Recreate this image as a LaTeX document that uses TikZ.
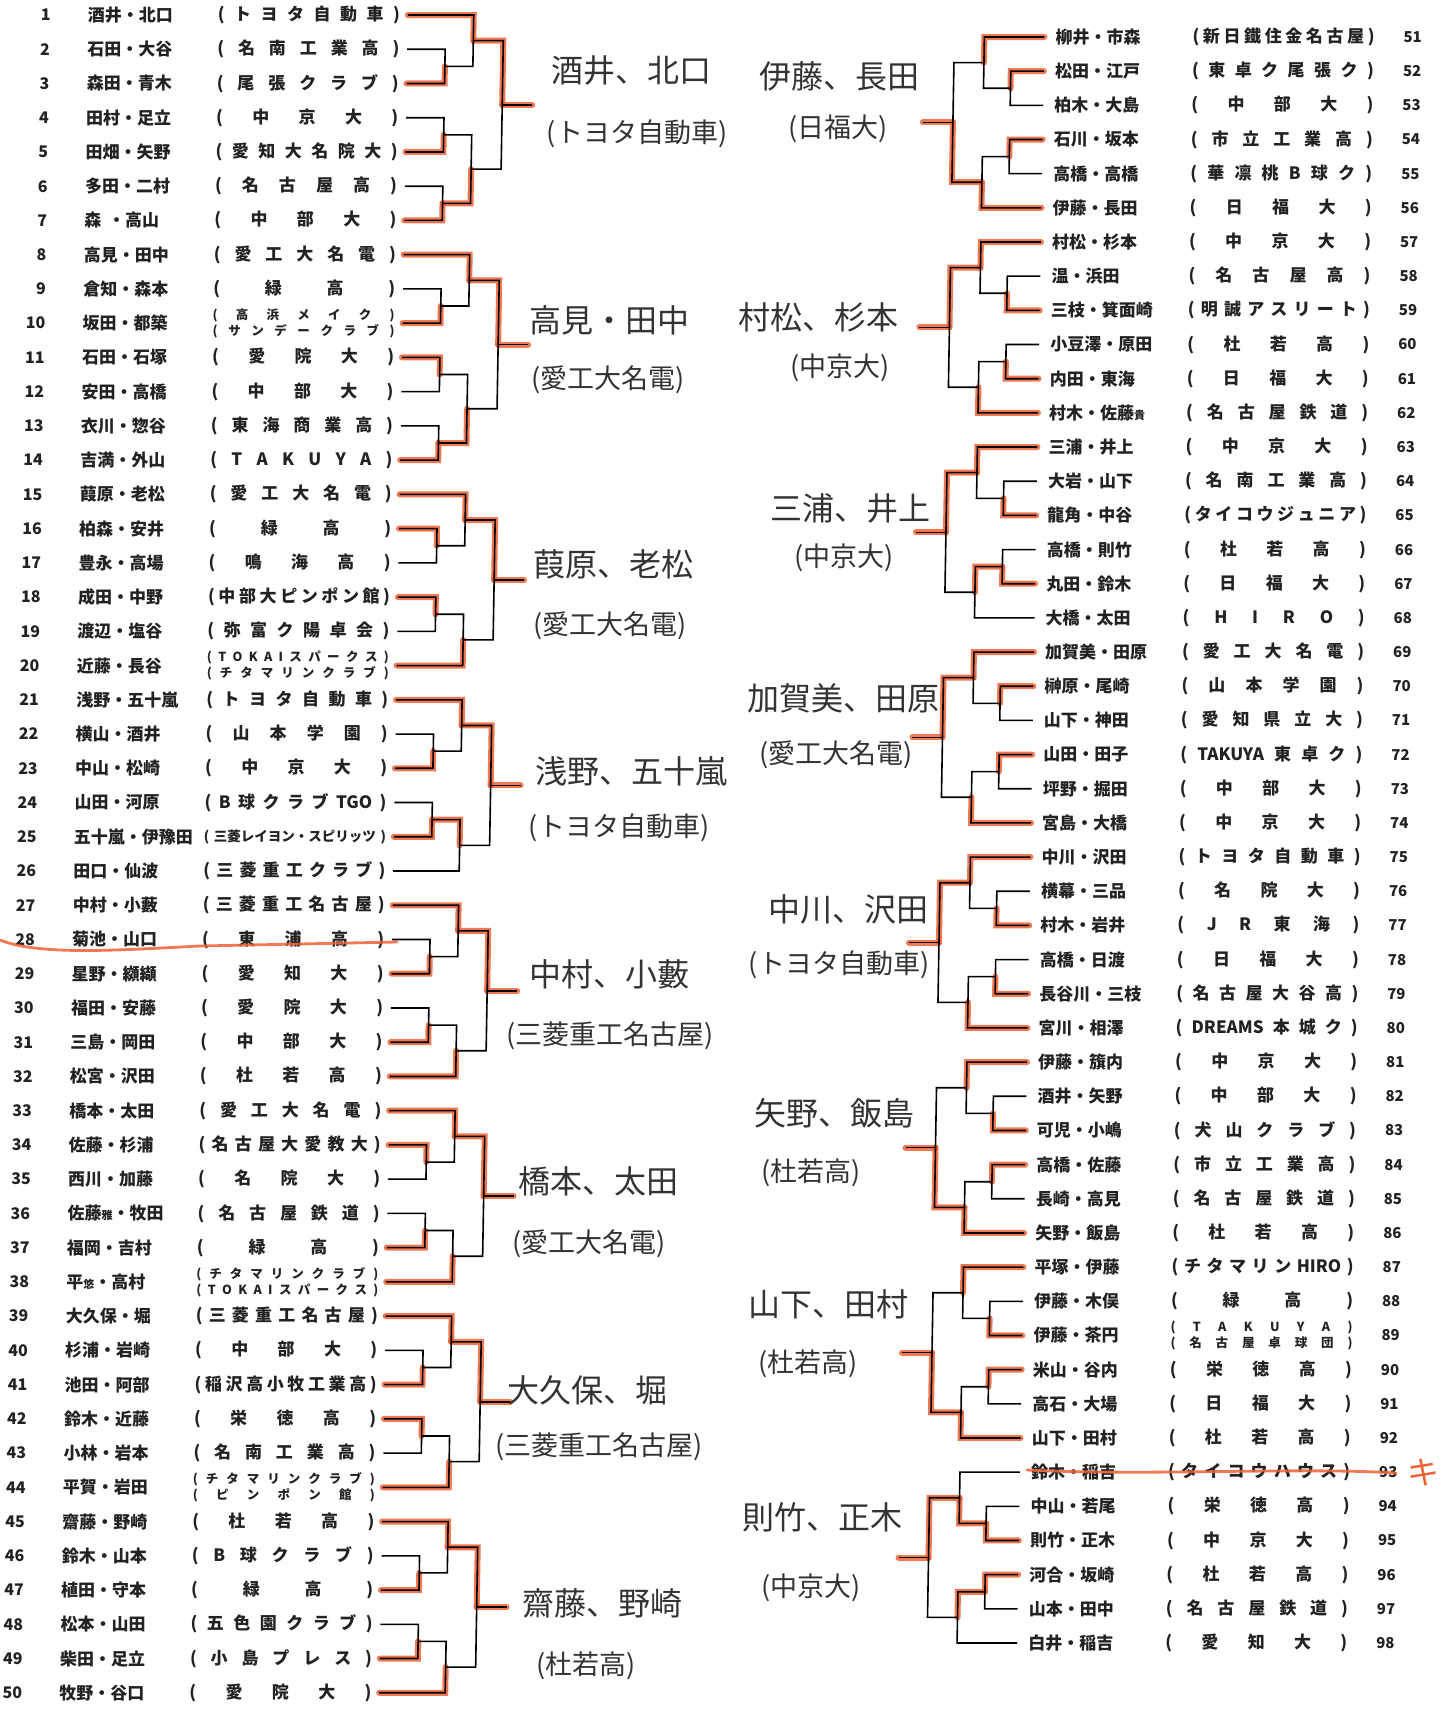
\documentclass[tikz,border=0pt]{standalone}
\usepackage{fontspec}
\setmainfont{Noto Sans CJK JP}
\newfontfamily\handfont{Noto Sans CJK JP}
\pgfdeclarelayer{paper}
\pgfdeclarelayer{bg}
\pgfsetlayers{paper,bg,main}
\definecolor{pencil}{HTML}{EE6235}
\definecolor{ink}{HTML}{222222}

\def\spreadendmark{\spreadendmark}
\def\spreadchars#1{\spreadB#1\spreadendmark}
\def\spreadB#1{#1\spreadC}
\def\spreadC#1{\def\spreadtmp{#1}\ifx\spreadtmp\spreadendmark\else\hfil#1\expandafter\spreadC\fi}
\newcommand\cb[1]{\hbox to 182pt{(\hfil\spreadchars{#1}\hfil)}}
\newcommand\two[2]{\vbox{\fontsize{12.5}{16}\selectfont
  \hbox to 182pt{(\hfil\spreadchars{#1}\hfil)}\hbox to 182pt{(\hfil\spreadchars{#2}\hfil)}}}
\newcommand\tight[1]{\hbox to 182pt{\fontsize{13.5}{15}\selectfont(\hfil#1\hfil)}}
\newcommand\sm[1]{{\fontsize{11}{12}\selectfont#1}}

\tikzset{
  bk/.style={line width=1.6pt, black},
  win/.style={line width=6pt, pencil, opacity=0.85, line cap=round},
  strike/.style={line width=2.8pt, pencil, opacity=0.85, line cap=round},
  numL/.style={anchor=east, inner sep=0pt, text=ink, font=\bfseries\fontsize{16}{18}\selectfont},
  numR/.style={anchor=west, inner sep=0pt, text=ink, font=\bfseries\fontsize{15}{17}\selectfont},
  nameT/.style={anchor=west, inner sep=0pt, text=ink, font=\bfseries\fontsize{17}{20}\selectfont},
  clubT/.style={anchor=west, inner sep=0pt, text=ink, font=\bfseries\fontsize{17}{20}\selectfont},
  handN/.style={inner sep=0pt, text=black!80, font=\handfont\fontsize{32}{36}\selectfont},
  handC/.style={inner sep=0pt, text=black!80, font=\handfont\fontsize{27}{30}\selectfont}
}

% one match: new point, upper, lower, x of the bar, winner t/b
\newcommand{\bra}[5]{%
  \edef\ytop{\csname y#2\endcsname}\edef\ybot{\csname y#3\endcsname}%
  \pgfmathsetmacro\ymid{(\ytop+\ybot)/2}%
  \expandafter\xdef\csname y#1\endcsname{\ymid}%
  \coordinate (#1) at (#4,\ymid);
  \begin{pgfonlayer}{bg}
    \if t#5\draw[win] (#2) -| (#1);\else\draw[win] (#3) -| (#1);\fi
  \end{pgfonlayer}
  \draw[bk] (#2) -| (#1) |- (#3);
}
\newcommand{\blockout}[1]{%
  \coordinate (#1o) at (\Xo,\csname y#1f\endcsname);
  \begin{pgfonlayer}{bg}\draw[win] (#1f) -- (#1o);\end{pgfonlayer}
  \draw[bk] (#1f) -- (#1o);
}
\newcommand{\sixblock}[7]{%
  \edef\enA{#1\the\numexpr#2\relax}\edef\enB{#1\the\numexpr#2+1\relax}%
  \edef\enC{#1\the\numexpr#2+2\relax}\edef\enD{#1\the\numexpr#2+3\relax}%
  \edef\enE{#1\the\numexpr#2+4\relax}\edef\enF{#1\the\numexpr#2+5\relax}%
  \bra{m#1#2p}{\enB}{\enC}{\Xa}{#3}
  \bra{m#1#2q}{\enA}{m#1#2p}{\Xb}{#4}
  \bra{m#1#2r}{\enD}{\enE}{\Xa}{#5}
  \bra{m#1#2s}{m#1#2r}{\enF}{\Xb}{#6}
  \bra{m#1#2f}{m#1#2q}{m#1#2s}{\Xc}{#7}
  \blockout{m#1#2}
}
\newcommand{\sevenblock}[8]{%
  \edef\enA{#1\the\numexpr#2\relax}\edef\enB{#1\the\numexpr#2+1\relax}%
  \edef\enC{#1\the\numexpr#2+2\relax}\edef\enD{#1\the\numexpr#2+3\relax}%
  \edef\enE{#1\the\numexpr#2+4\relax}\edef\enF{#1\the\numexpr#2+5\relax}%
  \edef\enG{#1\the\numexpr#2+6\relax}%
  \bra{m#1#2p}{\enB}{\enC}{\Xa}{#3}
  \bra{m#1#2q}{\enA}{m#1#2p}{\Xb}{#4}
  \bra{m#1#2r}{\enD}{\enE}{\Xa}{#5}
  \bra{m#1#2t}{\enF}{\enG}{\Xa}{#6}
  \bra{m#1#2s}{m#1#2r}{m#1#2t}{\Xb}{#7}
  \bra{m#1#2f}{m#1#2q}{m#1#2s}{\Xc}{#8}
  \blockout{m#1#2}
}

\begin{document}
\begin{tikzpicture}[x=1pt,y=-1pt]
\begin{pgfonlayer}{paper}
  \fill[white] (0,0) rectangle (1444,1716);
\end{pgfonlayer}
\useasboundingbox (0,0) rectangle (1444,1716);

\begin{scope}[xslant=0.017]
  \foreach \i/\nm/\cl in {1/酒井・北口/\cb{トヨタ自動車}, 2/石田・大谷/\cb{名南工業高},
    3/森田・青木/\cb{尾張クラブ}, 4/田村・足立/\cb{中京大}, 5/田畑・矢野/\cb{愛知大名院大},
    6/多田・二村/\cb{名古屋高}, 7/森\hspace{0.4em}・高山/\cb{中部大}, 8/高見・田中/\cb{愛工大名電},
    9/倉知・森本/\cb{緑高}, 10/坂田・都築/\two{高浜メイク}{サンデークラブ},
    11/石田・石塚/\cb{愛院大}, 12/安田・高橋/\cb{中部大}, 13/衣川・惣谷/\cb{東海商業高},
    14/吉満・外山/\cb{TAKUYA}, 15/葭原・老松/\cb{愛工大名電}, 16/柏森・安井/\cb{緑高},
    17/豊永・高場/\cb{鳴海高}, 18/成田・中野/\cb{中部大ピンポン館}, 19/渡辺・塩谷/\cb{弥富ク陽卓会},
    20/近藤・長谷/\two{TOKAIスパークス}{チタマリンクラブ}, 21/浅野・五十嵐/\cb{トヨタ自動車},
    22/横山・酒井/\cb{山本学園}, 23/中山・松崎/\cb{中京大}, 24/山田・河原/\cb{B球クラブ{TGO}},
    25/五十嵐・伊豫田/\tight{三菱レイヨン・スピリッツ}, 26/田口・仙波/\cb{三菱重工クラブ},
    27/中村・小藪/\cb{三菱重工名古屋}, 28/菊池・山口/\cb{東浦高}, 29/星野・纐纈/\cb{愛知大},
    30/福田・安藤/\cb{愛院大}, 31/三島・岡田/\cb{中部大}, 32/松宮・沢田/\cb{杜若高},
    33/橋本・太田/\cb{愛工大名電}, 34/佐藤・杉浦/\cb{名古屋大愛教大}, 35/西川・加藤/\cb{名院大},
    36/佐藤\sm{雅}・牧田/\cb{名古屋鉄道}, 37/福岡・吉村/\cb{緑高},
    38/平\sm{悠}・高村/\two{チタマリンクラブ}{TOKAIスパークス}, 39/大久保・堀/\cb{三菱重工名古屋},
    40/杉浦・岩崎/\cb{中部大}, 41/池田・阿部/\cb{稲沢高小牧工業高}, 42/鈴木・近藤/\cb{栄徳高},
    43/小林・岩本/\cb{名南工業高}, 44/平賀・岩田/\two{チタマリンクラブ}{ピンポン館},
    45/齋藤・野崎/\cb{杜若高}, 46/鈴木・山本/\cb{B球クラブ}, 47/植田・守本/\cb{緑高},
    48/松本・山田/\cb{五色園クラブ}, 49/柴田・足立/\cb{小島プレス}, 50/牧野・谷口/\cb{愛院大}}{
    \pgfmathsetmacro\yy{15+(\i-1)*34.24}
    \node[numL] (nL\i) at (51,\yy) {\i};
    \node[nameT] (tL\i) at (88,\yy) {\nm};
    \node[clubT] (cL\i) at (218,\yy) {\cl};
    \coordinate (L\i) at (408,\yy);
    \expandafter\xdef\csname yL\i\endcsname{\yy}
  }
  \foreach \i/\nm/\cl in {51/柳井・市森/\cb{新日鐵住金名古屋}, 52/松田・江戸/\cb{東卓ク尾張ク},
    53/柏木・大島/\cb{中部大}, 54/石川・坂本/\cb{市立工業高}, 55/高橋・高橋/\cb{華凛桃B球ク},
    56/伊藤・長田/\cb{日福大}, 57/村松・杉本/\cb{中京大}, 58/温・浜田/\cb{名古屋高},
    59/三枝・箕面崎/\cb{明誠アスリート}, 60/小豆澤・原田/\cb{杜若高}, 61/内田・東海/\cb{日福大},
    62/村木・佐藤\sm{貴}/\cb{名古屋鉄道}, 63/三浦・井上/\cb{中京大}, 64/大岩・山下/\cb{名南工業高},
    65/龍角・中谷/\cb{タイコウジュニア}, 66/高橋・則竹/\cb{杜若高}, 67/丸田・鈴木/\cb{日福大},
    68/大橋・太田/\cb{HIRO}, 69/加賀美・田原/\cb{愛工大名電}, 70/榊原・尾崎/\cb{山本学園},
    71/山下・神田/\cb{愛知県立大}, 72/山田・田子/\cb{{TAKUYA}東卓ク}, 73/坪野・掘田/\cb{中部大},
    74/宮島・大橋/\cb{中京大}, 75/中川・沢田/\cb{トヨタ自動車}, 76/横幕・三品/\cb{名院大},
    77/村木・岩井/\cb{JR東海}, 78/高橋・日渡/\cb{日福大}, 79/長谷川・三枝/\cb{名古屋大谷高},
    80/宮川・相澤/\cb{{DREAMS}本城ク}, 81/伊藤・籏内/\cb{中京大}, 82/酒井・矢野/\cb{中部大},
    83/可児・小嶋/\cb{犬山クラブ}, 84/高橋・佐藤/\cb{市立工業高}, 85/長崎・高見/\cb{名古屋鉄道},
    86/矢野・飯島/\cb{杜若高}, 87/平塚・伊藤/\cb{チタマリン{HIRO}}, 88/伊藤・木俣/\cb{緑高},
    89/伊藤・茶円/\two{TAKUYA}{名古屋卓球団}, 90/米山・谷内/\cb{栄徳高}, 91/高石・大場/\cb{日福大},
    92/山下・田村/\cb{杜若高}, 93/鈴木・稲吉/\cb{タイコウハウス}, 94/中山・若尾/\cb{栄徳高},
    95/則竹・正木/\cb{中京大}, 96/河合・坂崎/\cb{杜若高}, 97/山本・田中/\cb{名古屋鉄道},
    98/白井・稲吉/\cb{愛知大}}{
    \pgfmathsetmacro\yy{37+(\i-51)*34.17}
    \node[numR] (nR\i) at (1404,\yy) {\i};
    \node[nameT] (tR\i) at (1056,\yy) {\nm};
    \node[clubT] (cR\i) at (1193,\yy) {\cl};
    \coordinate (R\i) at (1045,\yy);
    \expandafter\xdef\csname yR\i\endcsname{\yy}
  }

  \def\Xa{446}\def\Xb{474}\def\Xc{504}\def\Xo{534}
  \sevenblock{L}{1}{b}{t}{b}{b}{b}{t}
  \sevenblock{L}{8}{b}{t}{t}{b}{b}{t}
  \sixblock{L}{15}{t}{t}{t}{b}{t}
  \sixblock{L}{21}{b}{t}{b}{t}{t}
  \sixblock{L}{27}{b}{t}{b}{b}{t}
  \sixblock{L}{33}{t}{t}{b}{b}{t}
  \sixblock{L}{39}{b}{t}{t}{b}{t}
  \sixblock{L}{45}{b}{t}{b}{b}{t}

  \def\Xa{1012}\def\Xb{985}\def\Xc{955}\def\Xo{925}
  \sixblock{R}{51}{t}{t}{t}{b}{b}
  \sixblock{R}{57}{b}{t}{b}{b}{t}
  \sixblock{R}{63}{b}{t}{b}{t}{t}
  \sixblock{R}{69}{t}{t}{t}{b}{t}
  \sixblock{R}{75}{b}{t}{b}{b}{t}
  \sixblock{R}{81}{b}{t}{t}{b}{b}
  \sixblock{R}{87}{b}{t}{t}{b}{b}
  \sixblock{R}{93}{b}{b}{t}{t}{t}
\end{scope}

% pencil notes
\node[handN] (hL1) at (631,71) {酒井、北口};
\node[handC] (hL1c) at (637,134) {(トヨタ自動車)};
\node[handN] (hL2) at (609,320) {高見・田中};
\node[handC] (hL2c) at (608,380) {(愛工大名電)};
\node[handN] (hL3) at (613,564) {葭原、老松};
\node[handC] (hL3c) at (610,626) {(愛工大名電)};
\node[handN] (hL4) at (631,771) {浅野、五十嵐};
\node[handC] (hL4c) at (619,828) {(トヨタ自動車)};
\node[handN] (hL5) at (609,974) {中村、小藪};
\node[handC] (hL5c) at (610,1036) {(三菱重工名古屋)};
\node[handN] (hL6) at (598,1181) {橋本、太田};
\node[handC] (hL6c) at (589,1244) {(愛工大名電)};
\node[handN] (hL7) at (587,1390) {大久保、堀};
\node[handC] (hL7c) at (599,1447) {(三菱重工名古屋)};
\node[handN] (hL8) at (602,1603) {齋藤、野崎};
\node[handC] (hL8c) at (586,1666) {(杜若高)};

\node[handN] (hR1) at (839,76) {伊藤、長田};
\node[handC] (hR1c) at (838,129) {(日福大)};
\node[handN] (hR2) at (818,317) {村松、杉本};
\node[handC] (hR2c) at (840,368) {(中京大)};
\node[handN] (hR3) at (850,508) {三浦、井上};
\node[handC] (hR3c) at (844,558) {(中京大)};
\node[handN] (hR4) at (843,698) {加賀美、田原};
\node[handC] (hR4c) at (836,755) {(愛工大名電)};
\node[handN] (hR5) at (848,909) {中川、沢田};
\node[handC] (hR5c) at (839,965) {(トヨタ自動車)};
\node[handN] (hR6) at (834,1113) {矢野、飯島};
\node[handC] (hR6c) at (811,1173) {(杜若高)};
\node[handN] (hR7) at (828,1304) {山下、田村};
\node[handC] (hR7c) at (808,1364) {(杜若高)};
\node[handN] (hR8) at (822,1517) {則竹、正木};
\node[handC] (hR8c) at (811,1588) {(中京大)};

\draw[strike] (0,940) .. controls (40,956) and (120,950) .. (200,946) -- (397,942);
\draw[strike] (1027,1470) .. controls (1150,1476) and (1300,1467) .. (1396,1473);
\node[handN, text=pencil] (ki) at (1423,1473) {キ};
\end{tikzpicture}
\end{document}
